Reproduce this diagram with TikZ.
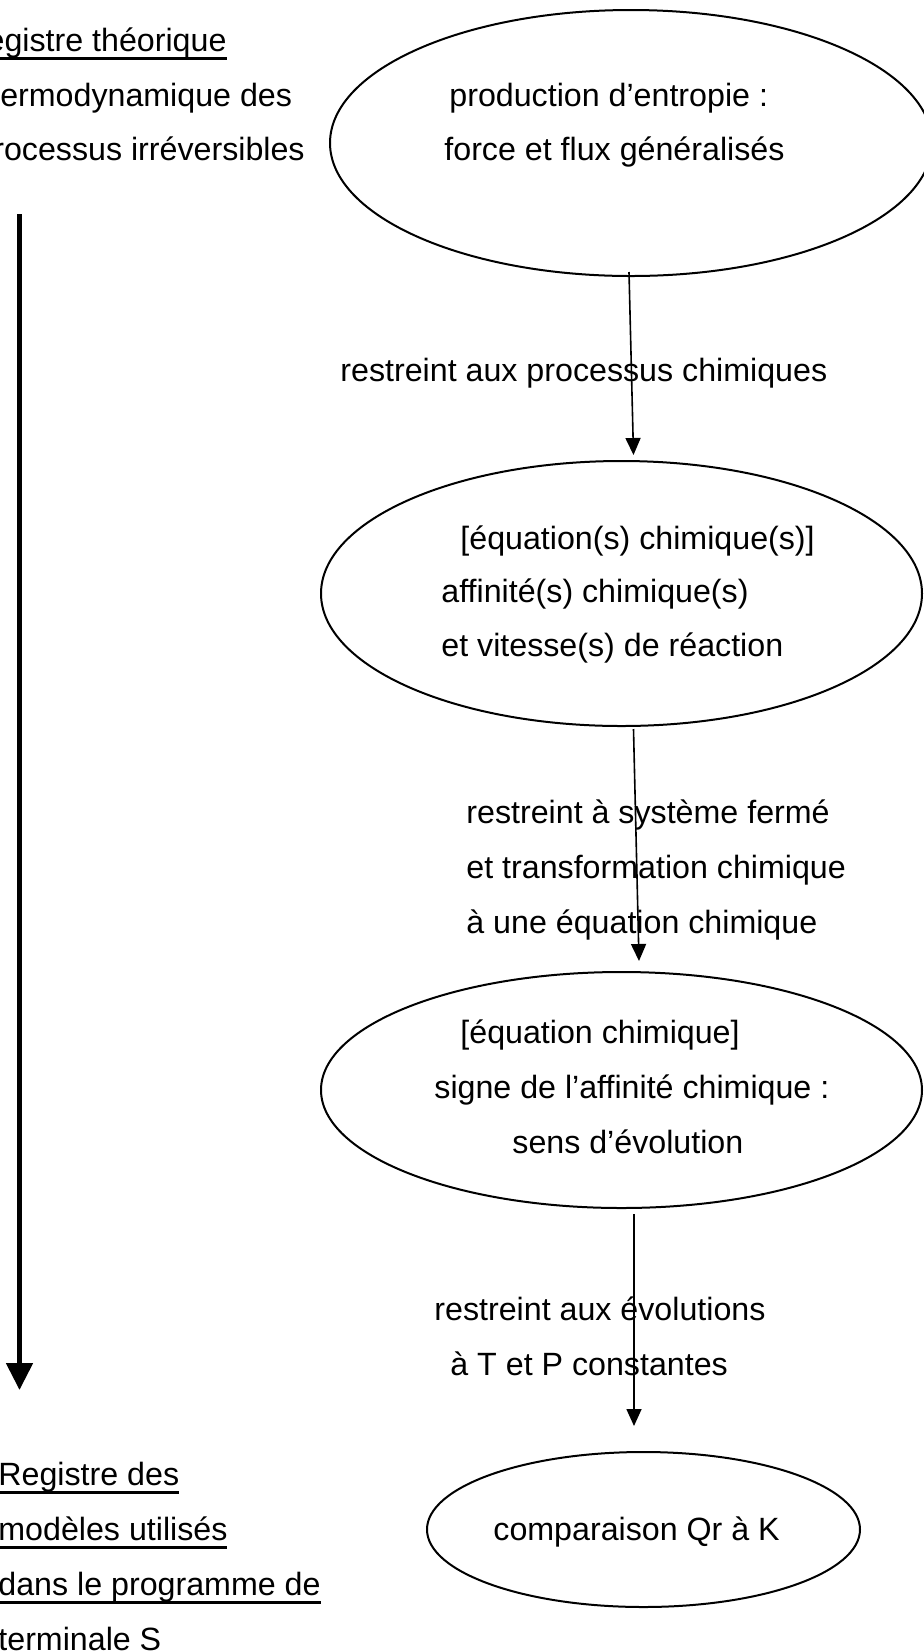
\documentclass[tikz,border=0pt]{standalone}
\usepackage{fontspec}
\setmainfont{Liberation Sans}
\usetikzlibrary{arrows.meta,shapes.geometric}
\newcommand{\souligne}[1]{\setbox0\hbox{#1}\rlap{\rule[-4.5pt]{\wd0}{1.3pt}}\box0}

\begin{document}
\begin{tikzpicture}[x=0.5pt,y=-0.5pt,
  ligne/.style={anchor=base west,inner sep=0pt,font=\fontsize{16.1}{19}\selectfont},
  bulle/.style={draw,ellipse,line width=1pt,inner sep=0pt},
  fleche/.style={-{Triangle[length=8.5pt,width=7.5pt]},line width=0.8pt},
  grossefleche/.style={-{Triangle[length=13.5pt,width=13pt]},line width=2.5pt}]
  \useasboundingbox (0,0) rectangle (924,1651);
  \clip (0,0) rectangle (924,1651);

  % registres (colonne de gauche)
  \node[ligne] (theo1) at (-37,51) {\souligne{Registre théorique}};
  \node[ligne] (theo2) at (-27,106) {thermodynamique des};
  \node[ligne] (theo3) at (-25,160) {processus irréversibles};
  \node[ligne] (prog1) at (-2,1485) {\souligne{Registre des}};
  \node[ligne] (prog2) at (-2,1540) {\souligne{modèles utilisés}};
  \node[ligne] (prog3) at (-2,1595) {\souligne{dans le programme de}};
  \node[ligne] (prog4) at (-2,1650) {\souligne{terminale S}};
  \coordinate (haut) at (19.5,214);
  \coordinate (bas) at (19.5,1390);
  \draw[grossefleche] (haut) -- (bas);

  % bulles
  \node[bulle,minimum width=301pt,minimum height=133pt] (entropie) at (631,143) {};
  \node[bulle,minimum width=300.5pt,minimum height=132.5pt] (affinite) at (621.5,593.5) {};
  \node[bulle,minimum width=300.5pt,minimum height=118pt] (signe) at (621.5,1090) {};
  \node[bulle,minimum width=216.5pt,minimum height=77.5pt] (comparaison) at (643.5,1529.5) {};

  \node[ligne] (entropie1) at (449,106) {production d’entropie :};
  \node[ligne] (entropie2) at (444,160) {force et flux généralisés};
  \node[ligne] (affinite1) at (460,549) {[équation(s) chimique(s)]};
  \node[ligne] (affinite2) at (441,602) {affinité(s) chimique(s)};
  \node[ligne] (affinite3) at (441,656) {et vitesse(s) de réaction};
  \node[ligne] (signe1) at (460,1043) {[équation chimique]};
  \node[ligne] (signe2) at (434,1098) {signe de l’affinité chimique :};
  \node[ligne] (signe3) at (512,1153) {sens d’évolution};
  \node[ligne] (comparaison1) at (493,1540) {comparaison Qr à K};

  % restrictions successives
  \coordinate (depart1) at (629,272);
  \coordinate (arrivee1) at (633.5,455);
  \draw[fleche] (depart1) -- (arrivee1);
  \node[ligne] (restr1) at (340,381) {restreint aux processus chimiques};

  \coordinate (depart2) at (633.5,729);
  \coordinate (arrivee2) at (639,961);
  \draw[fleche] (depart2) -- (arrivee2);
  \node[ligne] (restr2a) at (466,823) {restreint à système fermé};
  \node[ligne] (restr2b) at (466,878) {et transformation chimique};
  \node[ligne] (restr2c) at (466,933) {à une équation chimique};

  \coordinate (depart3) at (634,1214);
  \coordinate (arrivee3) at (634,1426);
  \draw[fleche] (depart3) -- (arrivee3);
  \node[ligne] (restr3a) at (434,1320) {restreint aux évolutions};
  \node[ligne] (restr3b) at (450,1375) {à T et P constantes};
\end{tikzpicture}
\end{document}
